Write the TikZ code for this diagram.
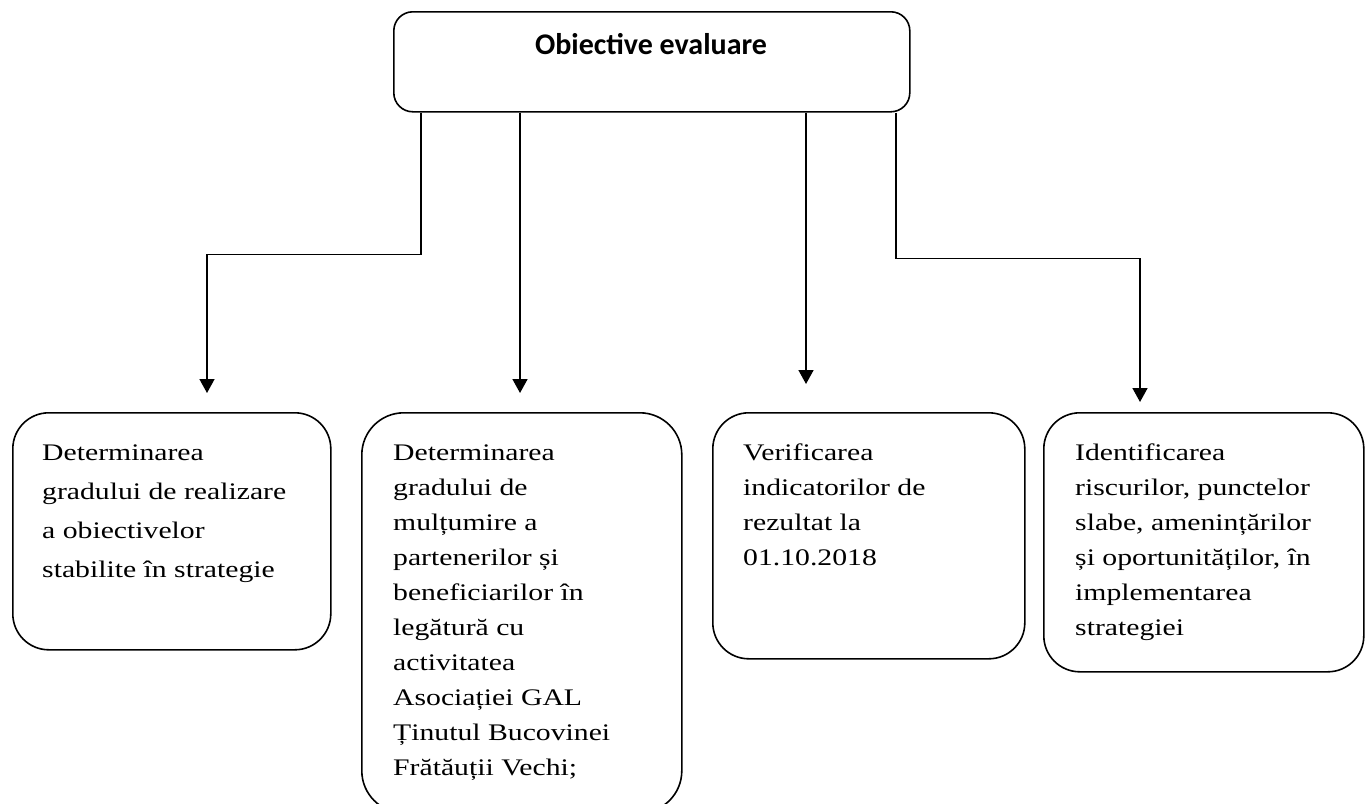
\documentclass[tikz,border=0pt]{standalone}
\usepackage{fontspec}
\setmainfont{Liberation Serif}
\newfontfamily\titlefont{Carlito}
\usepackage{graphicx}
\usetikzlibrary{positioning,arrows.meta}

\tikzset{
  titlebox/.style = {draw, line width=1.6pt, rounded corners=19pt, inner sep=0pt, anchor=north west},
  goalbox/.style = {draw, line width=1.6pt, rounded corners=36pt, inner sep=0pt, anchor=north west},
  goaltext/.style = {anchor=base west, inner sep=0pt},
  link/.style = {line width=1.6pt, -{Triangle[width=15pt,length=14pt]}}
}
\newcommand{\goallines}[2]{\scalebox{1}[0.8]{\parbox[t]{330pt}{\fontsize{29.7pt}{#1}\selectfont\raggedright #2}}}

\begin{document}
\begin{tikzpicture}[x=1pt,y=-1pt]
\clip (0,0) rectangle (1367,803);

% top box
\node[titlebox, minimum width=516pt, minimum height=100pt] (obj) at (393,11) {};
\node[anchor=base, inner sep=0pt, font={\titlefont\bfseries\fontsize{30pt}{36pt}\selectfont}] (objtitle) at (651,54) {Obiective evaluare};

% the four goals
\node[goalbox, minimum width=318pt, minimum height=237pt] (goal1) at (12,412) {};
\node[goalbox, rounded corners=42pt, minimum width=320pt, minimum height=400pt] (goal2) at (361,412) {};
\node[goalbox, minimum width=312pt, minimum height=246pt] (goal3) at (712,412) {};
\node[goalbox, minimum width=320pt, minimum height=259pt] (goal4) at (1043,412) {};

\node[goaltext] (text1) at (42,460) {\goallines{48.75pt}{Determinarea\\gradului de realizare\\a obiectivelor\\stabilite în strategie}};
\node[goaltext] (text2) at (393,460) {\goallines{43.75pt}{Determinarea\\gradului de\\mulțumire a\\partenerilor și\\beneficiarilor în\\legătură cu\\activitatea\\Asociației GAL\\Ținutul Bucovinei\\Frătăuții Vechi;}};
\node[goaltext] (text3) at (743,460) {\goallines{43.75pt}{Verificarea\\indicatorilor de\\rezultat la\\01.10.2018}};
\node[goaltext] (text4) at (1075,460) {\goallines{43.75pt}{Identificarea\\riscurilor, punctelor\\slabe, amenințărilor\\și oportunităților, în\\implementarea\\strategiei}};

% arrows
\coordinate (tip1) at (207,393);
\coordinate (tip2) at (520,393);
\coordinate (tip3) at (806,384);
\coordinate (tip4) at (1140,402);

\draw[link] ([xshift=28pt]obj.south west) -- ++(0,142) -| (tip1);
\draw[link] ([xshift=127pt]obj.south west) -- (tip2);
\draw[link] ([xshift=413pt]obj.south west) -- (tip3);
\draw[link] ([xshift=503pt]obj.south west) -- ++(0,146) -| (tip4);

\end{tikzpicture}
\end{document}
